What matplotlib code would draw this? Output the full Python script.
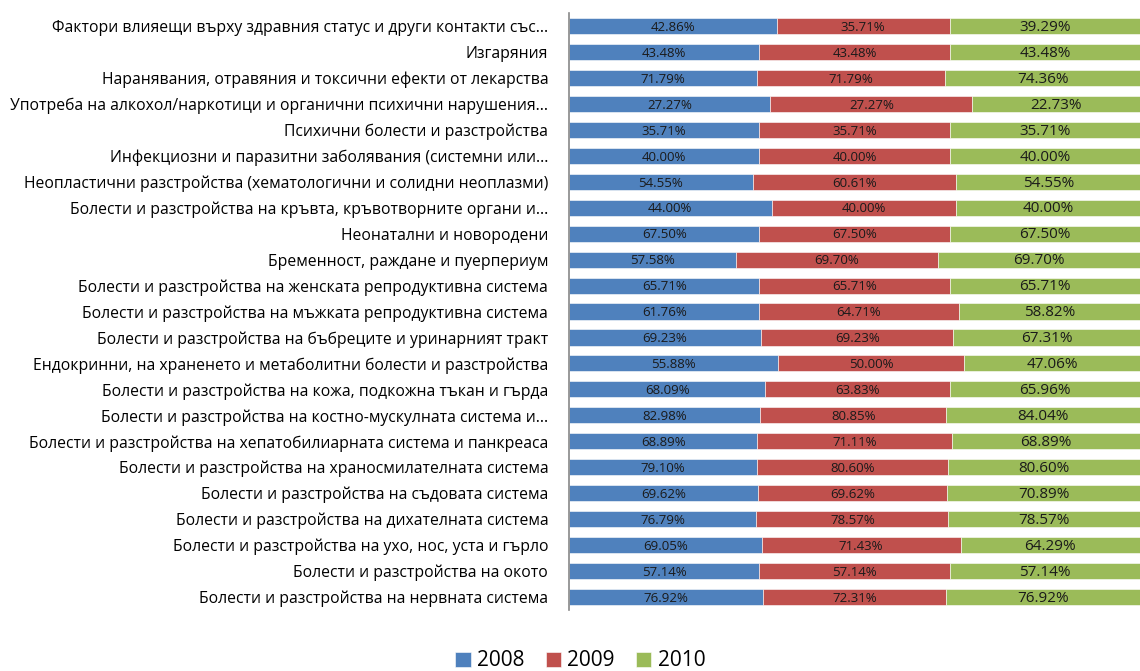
import numpy as np
import matplotlib.pyplot as plt

plt.rcParams['font.family'] = ['Open Sans', 'DejaVu Sans']

# категориите отдолу нагоре
categories = [
    "Болести и разстройства на нервната система",
    "Болести и разстройства на окото",
    "Болести и разстройства на ухо, нос, уста и гърло",
    "Болести и разстройства на дихателната система",
    "Болести и разстройства на съдовата система",
    "Болести и разстройства на храносмилателната система",
    "Болести и разстройства на хепатобилиарната система и панкреаса",
    "Болести и разстройства на костно-мускулната система и...",
    "Болести и разстройства на кожа, подкожна тъкан и гърда",
    "Ендокринни, на храненето и метаболитни болести и разстройства",
    "Болести и разстройства на бъбреците и уринарният тракт",
    "Болести и разстройства на мъжката репродуктивна система",
    "Болести и разстройства на женската репродуктивна система",
    "Бременност, раждане и пуерпериум",
    "Неонатални и новородени",
    "Болести и разстройства на кръвта, кръвотворните органи и...",
    "Неопластични разстройства (хематологични и солидни неоплазми)",
    "Инфекциозни и паразитни заболявания (системни или...",
    "Психични болести и разстройства",
    "Употреба на алкохол/наркотици и органични психични нарушения...",
    "Наранявания, отравяния и токсични ефекти от лекарства",
    "Изгаряния",
    "Фактори влияещи върху здравния статус и други контакти със...",
]

y2008 = [76.92, 57.14, 69.05, 76.79, 69.62, 79.10, 68.89, 82.98, 68.09, 55.88, 69.23, 61.76,
         65.71, 57.58, 67.50, 44.00, 54.55, 40.00, 35.71, 27.27, 71.79, 43.48, 42.86]
y2009 = [72.31, 57.14, 71.43, 78.57, 69.62, 80.60, 71.11, 80.85, 63.83, 50.00, 69.23, 64.71,
         65.71, 69.70, 67.50, 40.00, 60.61, 40.00, 35.71, 27.27, 71.79, 43.48, 35.71]
y2010 = [76.92, 57.14, 64.29, 78.57, 70.89, 80.60, 68.89, 84.04, 65.96, 47.06, 67.31, 58.82,
         65.71, 69.70, 67.50, 40.00, 54.55, 40.00, 35.71, 22.73, 74.36, 43.48, 39.29]

years = ["2008", "2009", "2010"]
colors = ["#4F81BD", "#C0504D", "#9BBB59"]
label_sizes = [9.5, 9.5, 11]

vals = np.array([y2008, y2009, y2010])
shares = vals / vals.sum(axis=0)
y = np.arange(len(categories))

fig = plt.figure(figsize=(11.4, 6.71), dpi=100)
ax = fig.add_axes([0.4991, 0.0909, 0.5009, 0.8897])

left = np.zeros(len(categories))
for i in range(3):
    ax.barh(y, shares[i], left=left, height=0.62, color=colors[i], label=years[i],
            edgecolor="white", linewidth=0.4)
    for j in range(len(categories)):
        ax.text(left[j] + shares[i][j] / 2, y[j] - 0.05, f"{vals[i][j]:.2f}%",
                ha="center", va="center", fontsize=label_sizes[i], color="#1a1a1a")
    left += shares[i]

ax.set_xlim(0, 1)
ax.set_ylim(-0.5, len(categories) - 0.5)
ax.set_yticks(y)
ax.set_yticklabels(categories, fontsize=11.3)
ax.tick_params(axis="y", length=0, pad=15)
ax.set_xticks([])
for s in ["top", "right", "bottom"]:
    ax.spines[s].set_visible(False)
ax.spines["left"].set_color("#888888")
ax.spines["left"].set_linewidth(1.2)

fig.legend(loc="center", bbox_to_anchor=(0.509, 0.015), ncol=3, frameon=False,
           fontsize=15, handlelength=0.75, handleheight=0.75, handletextpad=0.3,
           columnspacing=1.0)

fig.savefig("out.png", dpi=100)
